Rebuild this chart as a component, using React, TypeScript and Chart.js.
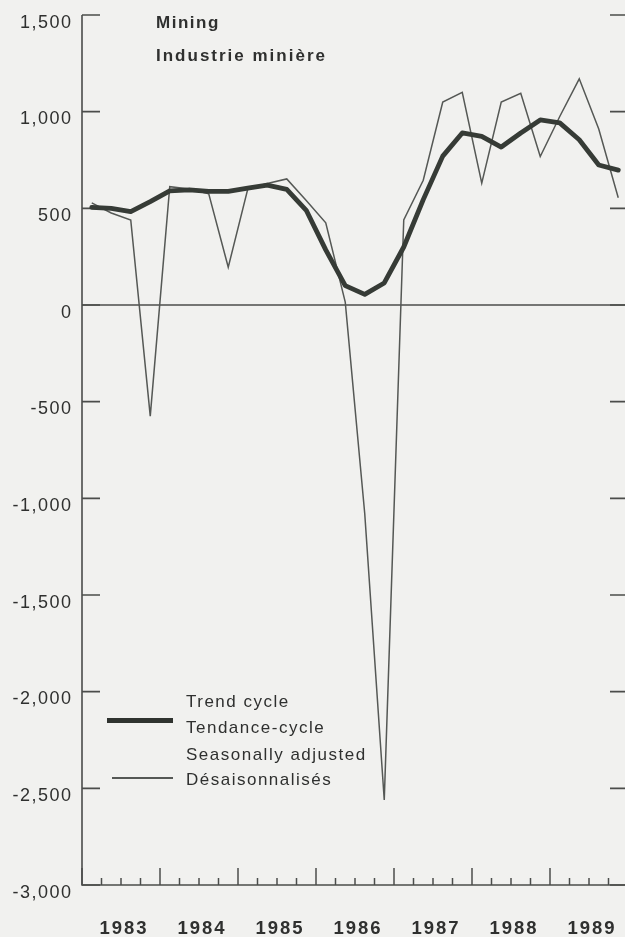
import React, { useEffect, useRef } from "react";
import { Chart, registerables } from "chart.js";

Chart.register(...registerables);

// ---- data (quarterly, 1983Q1 .. 1989Q4) ----
const years = ["1983", "1984", "1985", "1986", "1987", "1988", "1989"];
const quarters = ["Q1", "Q2", "Q3", "Q4"];
const yTickValues = [1500, 1000, 500, 0, -500, -1000, -1500, -2000, -2500, -3000];
const trendCycle = [
  505, 500, 483, 535,
  590, 596, 588, 588,
  605, 620, 598, 490,
  285, 100, 55, 114,
  300, 545, 770, 890,
  872, 817, 890, 957,
  942, 855, 724, 698,
];
const seasonallyAdjusted = [
  528, 476, 440, -575,
  612, 600, 575, 195,
  600, 628, 652, 540,
  425, 15, -1080, -2560,
  440, 645, 1050, 1100,
  630, 1050, 1095, 768,
  975, 1170, 910, 555,
];

const periodLabels = years.flatMap((yr) => quarters.map((q) => `${yr} ${q}`));

const FONT = "'Liberation Sans', Arial, Helvetica, sans-serif";
const TEXT = "#2f302f";

const axesPlugin = {
  id: "printAxes",
  beforeDatasetsDraw(chart: any) {
    const { ctx, chartArea: a, scales } = chart;
    const xs = scales.x;
    const ys = scales.y;
    ctx.save();
    ctx.strokeStyle = "#4b4d4b";
    ctx.lineWidth = 1.6;
    ctx.lineCap = "butt";
    // frame
    ctx.beginPath();
    ctx.moveTo(a.left, a.top);
    ctx.lineTo(a.left, a.bottom);
    ctx.lineTo(a.right, a.bottom);
    ctx.lineTo(a.right, a.top);
    ctx.stroke();
    // zero line
    const y0 = ys.getPixelForValue(0);
    ctx.lineWidth = 1.4;
    ctx.beginPath();
    ctx.moveTo(a.left, y0);
    ctx.lineTo(a.right, y0);
    ctx.stroke();
    // y tick marks (inward, both sides)
    ctx.lineWidth = 1.6;
    yTickValues.forEach((v) => {
      const py = ys.getPixelForValue(v);
      ctx.beginPath();
      ctx.moveTo(a.left, py);
      ctx.lineTo(a.left + 18, py);
      ctx.moveTo(a.right - 18, py);
      ctx.lineTo(a.right, py);
      ctx.stroke();
    });
    // x tick marks (quarter boundaries, years longer)
    ctx.lineWidth = 1.5;
    for (let k = 0; k <= periodLabels.length; k++) {
      const px = xs.getPixelForValue(k);
      const len = k % 4 === 0 ? 17 : 7;
      ctx.beginPath();
      ctx.moveTo(px, a.bottom);
      ctx.lineTo(px, a.bottom - len);
      ctx.stroke();
    }
    // y labels
    ctx.fillStyle = TEXT;
    ctx.font = `18px ${FONT}`;
    (ctx as any).letterSpacing = "1.5px";
    ctx.textAlign = "right";
    ctx.textBaseline = "alphabetic";
    yTickValues.forEach((v) => {
      const py = ys.getPixelForValue(v);
      ctx.fillText(v.toLocaleString("en-US"), 72.5, py + 12.5);
    });
    // year labels
    ctx.font = `bold 18.5px ${FONT}`;
    (ctx as any).letterSpacing = "2px";
    ctx.textAlign = "center";
    years.forEach((yr, i) => {
      const px = xs.getPixelForValue(i * 4 + 2);
      ctx.fillText(yr, px + 3, 934);
    });
    ctx.restore();
  },
};

export default function App() {
  const ref = useRef<HTMLCanvasElement | null>(null);

  useEffect(() => {
    document.body.style.margin = "0";
    document.body.style.overflow = "hidden";
    const canvas = ref.current;
    if (!canvas) return;
    const chart = new Chart(canvas, {
      type: "line",
      data: {
        datasets: [
          {
            label: "Trend cycle / Tendance-cycle",
            data: trendCycle.map((v, i) => ({ x: i + 0.5, y: v })),
            borderColor: "#363b36",
            borderWidth: 4.8,
            pointRadius: 0,
            tension: 0,
            borderJoinStyle: "round",
            borderCapStyle: "round",
          },
          {
            label: "Seasonally adjusted / Désaisonnalisés",
            data: seasonallyAdjusted.map((v, i) => ({ x: i + 0.5, y: v })),
            borderColor: "#555855",
            borderWidth: 1.5,
            pointRadius: 0,
            tension: 0,
            borderJoinStyle: "miter",
          },
        ],
      },
      options: {
        animation: false,
        responsive: false,
        devicePixelRatio: 1,
        layout: { padding: { left: 82, top: 15, right: 0, bottom: 52 } },
        plugins: { legend: { display: false }, tooltip: { enabled: false } },
        scales: {
          x: { type: "linear", min: 0, max: periodLabels.length, display: false },
          y: { type: "linear", min: -3000, max: 1500, display: false },
        },
      },
      plugins: [axesPlugin],
    });
    return () => chart.destroy();
  }, []);

  const txt: React.CSSProperties = {
    position: "absolute",
    fontFamily: FONT,
    color: TEXT,
    whiteSpace: "nowrap",
    margin: 0,
  };
  const leg: React.CSSProperties = { ...txt, left: 186, fontSize: 17, lineHeight: "17px", letterSpacing: "1.5px" };

  return (
    <div
      style={{
        position: "relative",
        width: 625,
        height: 937,
        overflow: "hidden",
        background: "#f1f1ef",
      }}
    >
      <canvas ref={ref} width={628} height={937} style={{ position: "absolute", left: 0, top: 0 }} />
      <div style={{ ...txt, left: 156, top: 14, fontSize: 17, lineHeight: "17px", fontWeight: "bold", letterSpacing: "1.5px" }}>
        Mining
      </div>
      <div style={{ ...txt, left: 156, top: 47, fontSize: 17, lineHeight: "17px", fontWeight: "bold", letterSpacing: "2px" }}>
        Industrie minière
      </div>
      <div style={{ position: "absolute", left: 107, top: 718, width: 66, height: 4.5, background: "#2f332f" }} />
      <div style={{ position: "absolute", left: 112, top: 777, width: 61, height: 1.5, background: "#555855" }} />
      <div style={{ ...leg, top: 693 }}>Trend cycle</div>
      <div style={{ ...leg, top: 719 }}>Tendance-cycle</div>
      <div style={{ ...leg, top: 746 }}>Seasonally adjusted</div>
      <div style={{ ...leg, top: 771 }}>Désaisonnalisés</div>
    </div>
  );
}
